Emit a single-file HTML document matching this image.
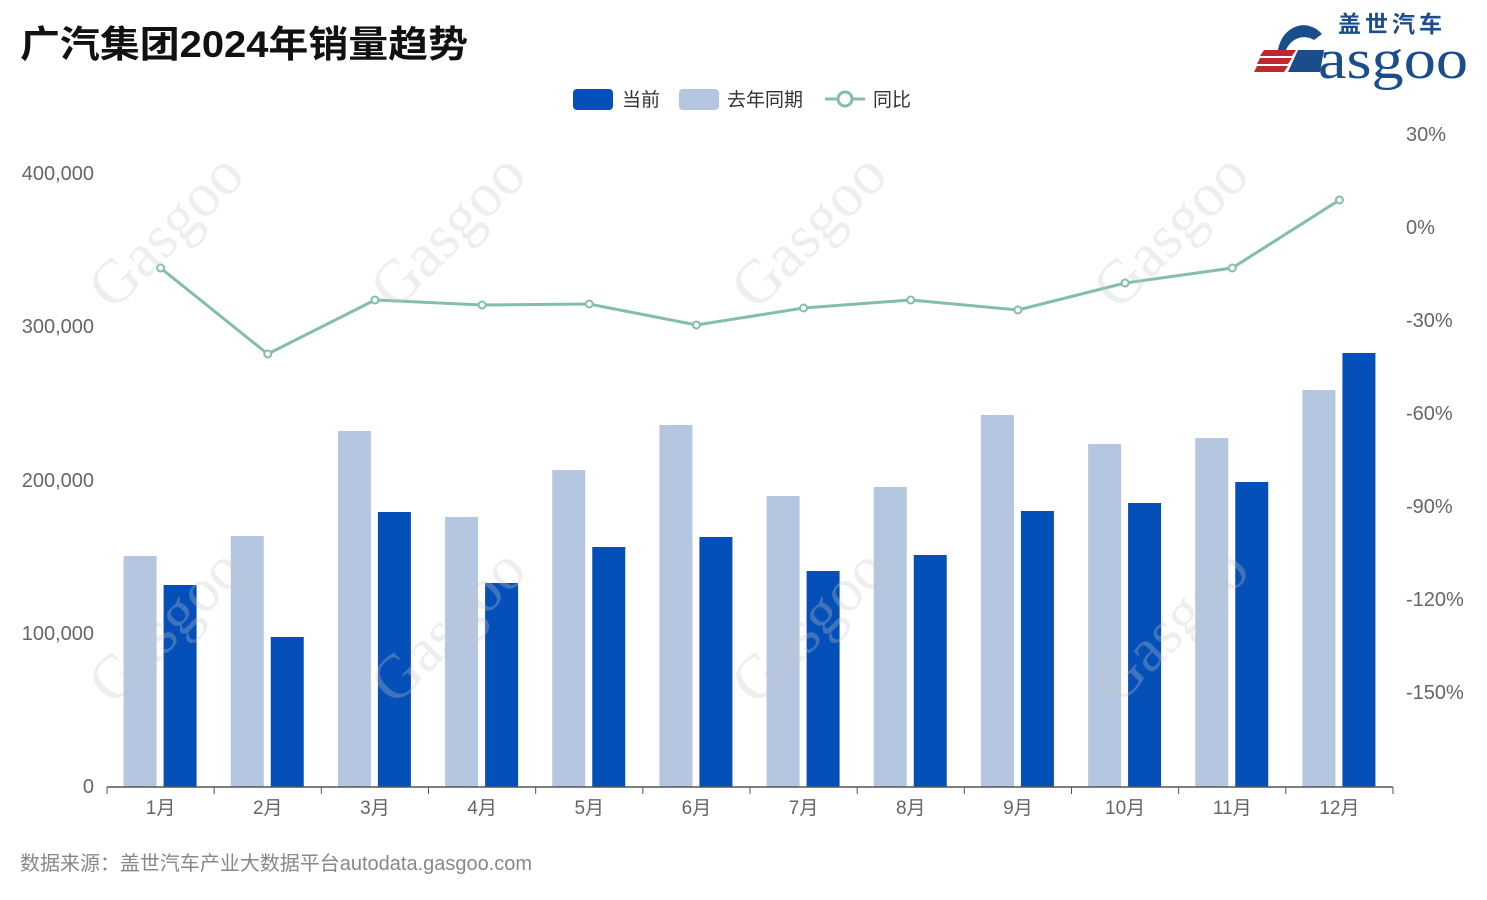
<!DOCTYPE html>
<html><head><meta charset="utf-8"><style>
html,body{margin:0;padding:0;background:#fff;}
body{width:1487px;height:895px;overflow:hidden;font-family:"Liberation Sans","Noto Sans CJK SC",sans-serif;}
</style></head><body>
<svg width="1487" height="895" xmlns="http://www.w3.org/2000/svg" font-family="Liberation Sans, Noto Sans CJK SC, sans-serif">
<text x="20" y="57" font-size="37" font-weight="bold" fill="#111" textLength="448" lengthAdjust="spacingAndGlyphs">广汽集团2024年销量趋势</text>
<!-- logo -->
<text x="1338" y="32" font-size="23" font-weight="bold" fill="#1a4d8c" letter-spacing="4">盖世汽车</text>
<text x="1318" y="78" font-size="56" font-family="Liberation Serif, serif" fill="#1a4d8c" textLength="150" lengthAdjust="spacingAndGlyphs">asgoo</text>
<path d="M1278 50 A26 30 0 0 1 1322 34 L1314 40 A20 22 0 0 0 1286 50 Z" fill="#1a4d8c"/>
<path d="M1264 50 H1296 L1292 56 H1260 Z M1260 58 H1292 L1288 64 H1257 Z M1257 66 H1288 L1284 72 H1254 Z" fill="#c0282d"/>
<path d="M1298 50 H1324 L1320 72 H1288 Z" fill="#1a4d8c"/>
<!-- legend -->
<rect x="573" y="89" width="40" height="21" rx="4" fill="#0550b8"/>
<text x="622" y="106" font-size="19" fill="#333">当前</text>
<rect x="679" y="89" width="40" height="21" rx="4" fill="#b4c6e0"/>
<text x="727" y="106" font-size="19" fill="#333">去年同期</text>
<line x1="825" y1="99" x2="865" y2="99" stroke="#82bfa6" stroke-width="3"/>
<circle cx="845" cy="99" r="7" fill="#fff" stroke="#82bfa6" stroke-width="3"/>
<text x="873" y="106" font-size="19" fill="#333">同比</text>
<!-- axis labels -->
<g font-size="20" fill="#666" text-anchor="end">
<text x="94" y="180">400,000</text><text x="94" y="333">300,000</text><text x="94" y="487">200,000</text><text x="94" y="640">100,000</text><text x="94" y="793">0</text>
</g>
<g font-size="20" fill="#666">
<text x="1406" y="141">30%</text><text x="1406" y="234">0%</text><text x="1406" y="327">-30%</text><text x="1406" y="420">-60%</text><text x="1406" y="513">-90%</text><text x="1406" y="606">-120%</text><text x="1406" y="699">-150%</text>
</g>
<g id="bars"></g>
<line x1="107" y1="787" x2="1393" y2="787" stroke="#555" stroke-width="1.5"/>
<g id="ticks"></g>
<polyline id="ln" fill="none" stroke="#82bfa6" stroke-width="3"/>
<g id="pts"></g>
<g id="wm" font-family="Liberation Serif, serif" fill="rgba(200,200,200,0.3)"></g>
<text x="20" y="870" font-size="20" fill="#888" textLength="512" lengthAdjust="spacingAndGlyphs">数据来源：盖世汽车产业大数据平台autodata.gasgoo.com</text>
</svg>
<script>
var ns="http://www.w3.org/2000/svg";
function el(t,a,p,txt){var e=document.createElementNS(ns,t);for(var k in a)e.setAttribute(k,a[k]);if(txt)e.textContent=txt;document.getElementById(p).appendChild(e);}
var L=[556,536,431,517,470,425,496,487,415,444,438,390],D=[585,637,512,583,547,537,571,555,511,503,482,353];
var Y=[268,354,300,305,304,325,308,300,310,283,268,200];
var w=(1393-107)/12,pts=[];
for(var i=0;i<12;i++){var c=107+w*(i+0.5);
el('rect',{x:c-37,y:L[i],width:33,height:787-L[i],fill:'#b4c6e0'},'bars');
el('rect',{x:c+3,y:D[i],width:33,height:787-D[i],fill:'#0550b8'},'bars');
el('line',{x1:107+w*i,y1:787,x2:107+w*i,y2:794,stroke:'#555'},'ticks');
el('text',{x:c,y:814,'font-size':19,fill:'#666','text-anchor':'middle'},'ticks',(i+1)+'月');
pts.push(c+','+Y[i]);
el('circle',{cx:c,cy:Y[i],r:3.5,fill:'#fff',stroke:'#82bfa6','stroke-width':2},'pts');}
el('line',{x1:1393,y1:787,x2:1393,y2:794,stroke:'#555'},'ticks');
document.getElementById('ln').setAttribute('points',pts.join(' '));
[[180,245],[462,245],[823,245],[1185,245],[180,640],[462,640],[823,640],[1185,640]].forEach(function(p){
el('text',{x:0,y:0,'font-size':62,'text-anchor':'middle',transform:'translate('+p[0]+','+p[1]+') rotate(-45)'},'wm','Gasgoo');});
</script>
</body></html>
